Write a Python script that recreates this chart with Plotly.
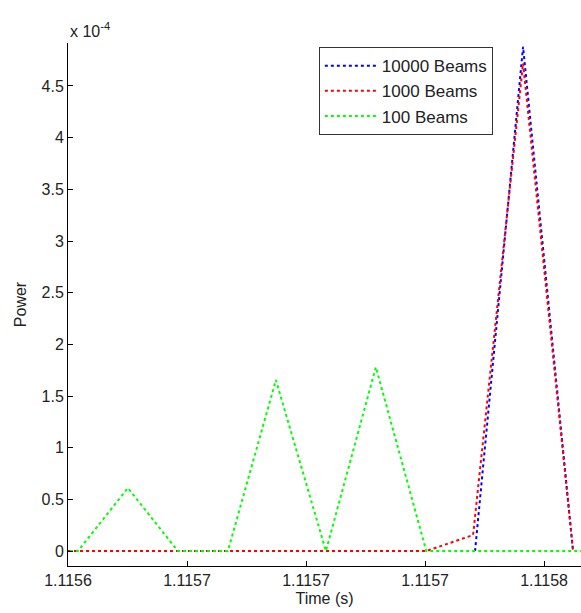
import plotly.graph_objects as go

# Time (s) and power (in units of 1e-4) for each series
t_10000 = [1.1157426, 1.1157547, 1.1157673]
p_10000 = [0.0, 4.88, 0.0]

t_1000 = [1.115640, 1.1157303, 1.1157421, 1.1157547, 1.1157673]
p_1000 = [0.0, 0.0, 0.155, 4.72, 0.0]

t_100 = [1.1156299, 1.1156425, 1.1156551, 1.1156677, 1.1156803, 1.1156924,
         1.1157050, 1.1157176, 1.1157303, 1.1157429, 1.1157555, 1.1157681, 1.1157807]
p_100 = [0.0, 0.0, 0.61, 0.0, 0.0, 1.655, 0.0, 1.78, 0.0, 0.0, 0.0, 0.0, 0.0]

x_tickvals = [1.11564, 1.11567, 1.11570, 1.11573, 1.11576]
x_ticktext = ["1.1156", "1.1157", "1.1157", "1.1157", "1.1158"]
y_tickvals = [0, 0.5, 1, 1.5, 2, 2.5, 3, 3.5, 4, 4.5]
y_ticktext = ["0", "0.5", "1", "1.5", "2", "2.5", "3", "3.5", "4", "4.5"]

FONT = "Liberation Sans, Arial, sans-serif"
TXT = "#222222"

fig = go.Figure()
fig.add_trace(go.Scatter(x=t_10000, y=p_10000, mode="lines", name="10000 Beams",
                         legendgroup="a",
                         line=dict(color="#0000FF", width=2, dash="dot")))
fig.add_trace(go.Scatter(x=t_1000, y=p_1000, mode="lines", name="1000 Beams",
                         legendgroup="b",
                         line=dict(color="#FF0000", width=2, dash="dot")))
fig.add_trace(go.Scatter(x=t_100, y=p_100, mode="lines", name="100 Beams",
                         legendgroup="c",
                         line=dict(color="#00FF00", width=2, dash="dot")))

fig.update_layout(
    width=581, height=613,
    margin=dict(l=68, r=0, t=43, b=47),
    paper_bgcolor="white", plot_bgcolor="white",
    font=dict(family=FONT, size=16, color=TXT),
    showlegend=True,
    legend=dict(x=0.489, y=0.992, xanchor="left", yanchor="top",
                bgcolor="white", bordercolor="#333333", borderwidth=1,
                itemwidth=52, tracegroupgap=0, font=dict(size=17, color=TXT)),
    xaxis=dict(range=[1.11564, 1.1157693], tickvals=x_tickvals, ticktext=x_ticktext,
               ticks="inside", ticklen=5, tickcolor="black",
               showline=True, linecolor="black", linewidth=1,
               showgrid=False, zeroline=False,
               title=dict(text="Time (s)", standoff=4, font=dict(size=16))),
    yaxis=dict(range=[-0.145, 4.916], tickvals=y_tickvals, ticktext=y_ticktext,
               ticks="inside", ticklen=5, tickcolor="black",
               showline=True, linecolor="black", linewidth=1,
               showgrid=False, zeroline=False,
               title=dict(text="Power", standoff=10, font=dict(size=16))),
    annotations=[dict(text="x 10<sup>-4</sup>", xref="paper", yref="paper",
                      x=0, y=1.025, xanchor="left", yanchor="middle",
                      showarrow=False, font=dict(size=16, color=TXT))],
)

fig.write_html("out.html")
